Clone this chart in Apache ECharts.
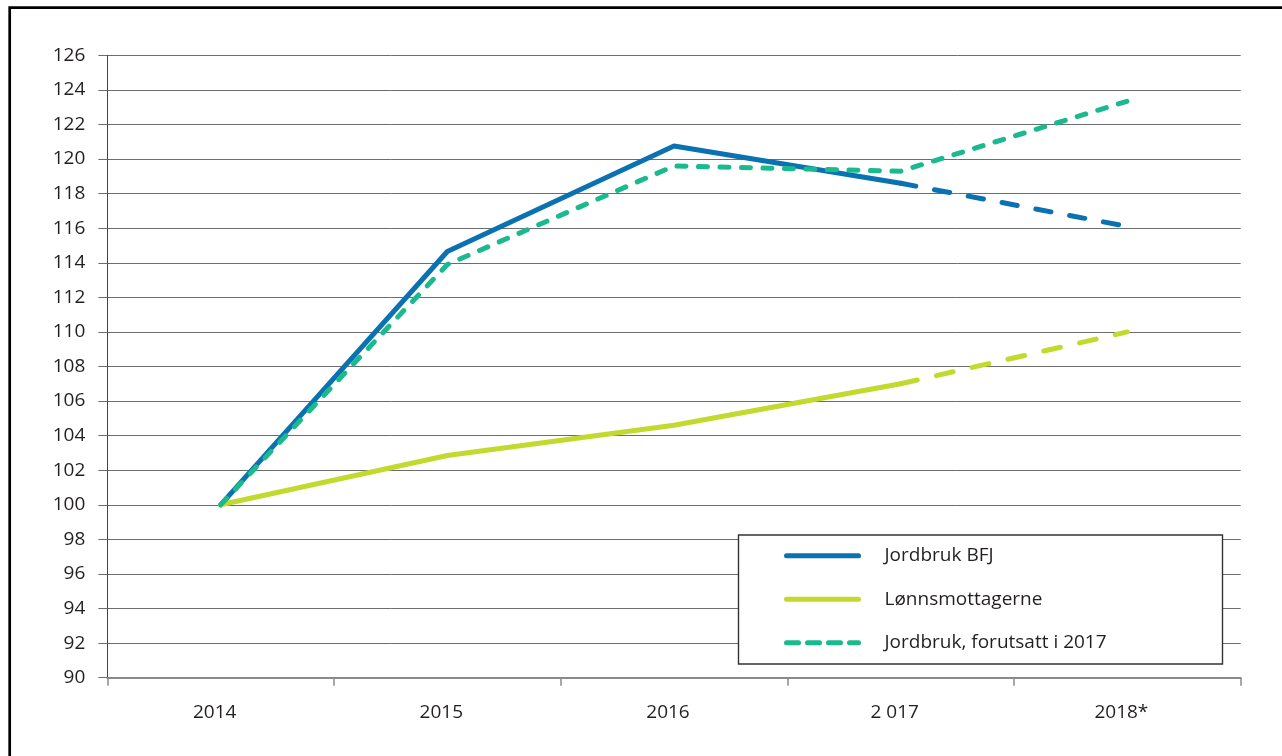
<!DOCTYPE html>
<html>
<head>
<meta charset="utf-8">
<script src="https://cdn.jsdelivr.net/npm/echarts@6/dist/echarts.min.js"></script>
<style>
  html, body { margin: 0; padding: 0; background: #fff; }
  #chart { width: 1282px; height: 756px; }
</style>
</head>
<body>
<div id="chart"></div>
<script>
// categories (x axis)
const years = ['2014', '2015', '2016', '2 017', '2018*']

// index values, 2014 = 100
const jordbrukBFJ = [100, 114.65, 120.75, 118.6, null]
const jordbrukBFJProg = [null, null, null, 118.6, 116.1]
const lonnsmottagerne = [100, 102.85, 104.6, 107.0, null]
const lonnsmottagerneProg = [null, null, null, 107.0, 110.0]
const forutsatt2017 = [100, 113.9, 119.6, 119.3, 123.35]

const names = ['Jordbruk BFJ', 'Lønnsmottagerne', 'Jordbruk, forutsatt i 2017']

const BLUE = '#0a72b0'
const YELLOW = '#c2d92e'
const GREEN = '#1bb98e'
const TEXT = '#231f20'
const FONT = 'Open Sans'

const chart = echarts.init(document.getElementById('chart'))

const line = (name, data, color, dash) => ({
  name,
  type: 'line',
  data,
  symbol: 'none',
  connectNulls: false,
  lineStyle: {
    color,
    width: 5,
    type: dash || 'solid',
    cap: 'round',
    join: 'round'
  },
  itemStyle: { color },
  emphasis: { disabled: true }
})

chart.setOption({
  animation: false,
  backgroundColor: '#fff',
  textStyle: { fontFamily: FONT, color: TEXT },
  grid: { left: 107.3, right: 41.3, top: 55.3, bottom: 78.3 },
  graphic: [
    {
      type: 'rect',
      z: 0,
      silent: true,
      shape: { x: 9.7, y: 7.7, width: 1400, height: 1000 },
      style: { fill: 'none', stroke: '#000', lineWidth: 2.7 }
    },
    {
      type: 'rect',
      z: 50,
      silent: true,
      shape: { x: 738.5, y: 535, width: 484, height: 129 },
      style: { fill: '#fff', stroke: '#333', lineWidth: 1.4 }
    }
  ],
  legend: {
    z: 60,
    orient: 'vertical',
    left: 784,
    top: 545.7,
    padding: 0,
    itemWidth: 72,
    itemHeight: 20,
    itemGap: 23.5,
    selectedMode: false,
    itemStyle: { color: 'rgba(0,0,0,0)', borderWidth: 0 },
    textStyle: {
      fontFamily: FONT,
      fontSize: 19,
      color: TEXT,
      lineHeight: 20,
      padding: [0, 0, 0, 21]
    },
    data: [
      { name: names[0], lineStyle: { color: BLUE, width: 5, type: 'solid', cap: 'round' } },
      { name: names[1], lineStyle: { color: YELLOW, width: 5, type: 'solid', cap: 'round' } },
      { name: names[2], lineStyle: { color: GREEN, width: 5, type: [12, 9], cap: 'round' } }
    ]
  },
  xAxis: {
    type: 'category',
    data: years,
    boundaryGap: true,
    axisLine: { lineStyle: { color: '#8a8a8a', width: 2 } },
    axisTick: { show: true, length: 8, lineStyle: { color: '#8a8a8a', width: 1.5 } },
    axisLabel: {
      fontFamily: FONT,
      fontSize: 19,
      color: TEXT,
      margin: 25,
      padding: [0, 12, 0, 0]
    },
    splitLine: { show: false }
  },
  yAxis: {
    type: 'value',
    min: 90,
    max: 126,
    interval: 2,
    axisLine: { show: true, lineStyle: { color: '#444', width: 1 } },
    axisTick: { show: true, length: 9, lineStyle: { color: '#6d6d6d', width: 1 } },
    axisLabel: {
      fontFamily: FONT,
      fontSize: 19,
      color: TEXT,
      margin: 22
    },
    splitLine: { show: true, lineStyle: { color: '#6d6d6d', width: 1 } }
  },
  series: [
    line(names[0], jordbrukBFJ, BLUE),
    line('BFJ prognose', jordbrukBFJProg, BLUE, [15.4, 19]),
    line(names[1], lonnsmottagerne, YELLOW),
    line('Lønn prognose', lonnsmottagerneProg, YELLOW, [17, 19.7]),
    line(names[2], forutsatt2017, GREEN, [9, 12.5])
  ]
})
</script>
</body>
</html>
